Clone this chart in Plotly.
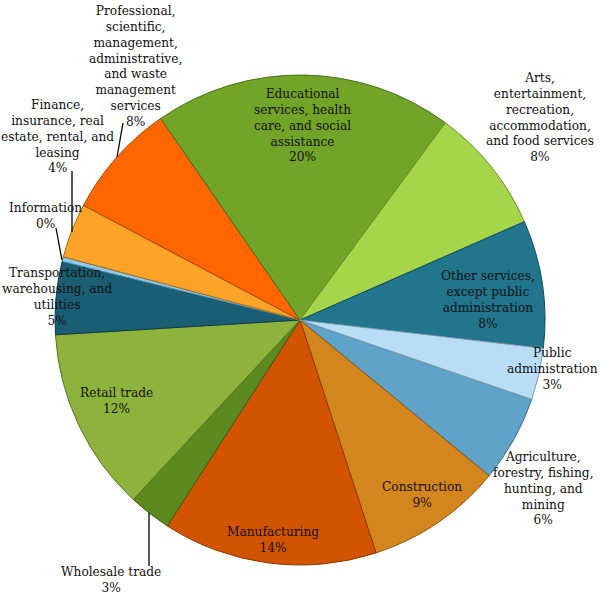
import plotly.graph_objects as go

# Data (share of employment by industry, %)
labels = [
    "Agriculture, forestry, fishing, hunting, and mining",
    "Construction",
    "Manufacturing",
    "Wholesale trade",
    "Retail trade",
    "Transportation, warehousing, and utilities",
    "Information",
    "Finance, insurance, real estate, rental, and leasing",
    "Professional, scientific, management, administrative, and waste management services",
    "Educational services, health care, and social assistance",
    "Arts, entertainment, recreation, accommodation, and food services",
    "Other services, except public administration",
    "Public administration",
]
values = [5.7, 9.0, 14.1, 2.8, 12.1, 4.8, 0.3, 3.6, 7.6, 19.7, 8.3, 8.4, 3.4]

# wrapped label text as shown on the chart
label_text = [
    "Agriculture,<br>forestry, fishing,<br>hunting, and<br>mining",
    "Construction",
    "Manufacturing",
    "Wholesale trade",
    "Retail trade",
    "Transportation,<br>warehousing, and<br>utilities",
    "Information",
    "Finance,<br>insurance, real<br>estate, rental, and<br>leasing",
    "Professional,<br>scientific,<br>management,<br>administrative,<br>and waste<br>management<br>services",
    "Educational<br>services, health<br>care, and social<br>assistance",
    "Arts,<br>entertainment,<br>recreation,<br>accommodation,<br>and food services",
    "Other services,<br>except public<br>administration",
    "Public<br>administration",
]

colors = ["#5fa3c8", "#d4861e", "#d35400", "#5c8a1f", "#8db33c", "#1b5e74", "#8ccbf0",
          "#fda428", "#ff6600", "#72a428", "#a5d64a", "#21758d", "#b9ddf5"]
edge_colors = ["#3c6f8c", "#8a5512", "#8a3700", "#3b5a12", "#5b7626", "#0f3a48", "#5a8fb0",
               "#a86a14", "#a84300", "#4a6c18", "#6c8f2c", "#134c5c", "#7a9bb0"]

# label centre positions in pixels (x from left, y from top)
label_pos = [(543, 488), (422, 495), (273, 540), (111, 580), (116, 401), (57, 297), (45, 216),
             (57, 136), (135, 66), (302, 125), (540, 117), (488, 300), (552, 369)]

# leader lines in pixels (x0, y0, x1, y1)
leaders = [(117, 157, 123, 123), (72, 171, 72, 232), (56, 228, 62, 260), (149, 513, 149, 566)]

W, H = 600, 613
cx, cy, r = 300, 320, 245

total = sum(values)
fig = go.Figure(go.Pie(
    labels=labels,
    values=values,
    sort=False,
    direction="clockwise",
    rotation=108.9,
    textinfo="none",
    marker=dict(colors=colors, line=dict(color=edge_colors, width=1)),
    domain=dict(x=[(cx - r) / W, (cx + r) / W], y=[1 - (cy + r) / H, 1 - (cy - r) / H]),
    showlegend=False,
))

for txt, v, (px, py) in zip(label_text, values, label_pos):
    fig.add_annotation(
        x=px / W, y=1 - py / H, xref="paper", yref="paper",
        text=f"{txt}<br>{round(v / total * 100)}%",
        showarrow=False, xanchor="center", yanchor="middle", align="center",
        font=dict(family="DejaVu Serif", size=12.2, color="#111111"),
    )

for x0, y0, x1, y1 in leaders:
    fig.add_shape(type="line", xref="paper", yref="paper",
                  x0=x0 / W, y0=1 - y0 / H, x1=x1 / W, y1=1 - y1 / H,
                  line=dict(color="black", width=1.3))

fig.update_layout(
    width=W, height=H,
    margin=dict(l=0, r=0, t=0, b=0),
    paper_bgcolor="white", plot_bgcolor="white",
)

fig.write_html("out.html", config={"displayModeBar": False},
               post_script="document.body.style.margin='0';document.body.style.overflow='hidden';")
